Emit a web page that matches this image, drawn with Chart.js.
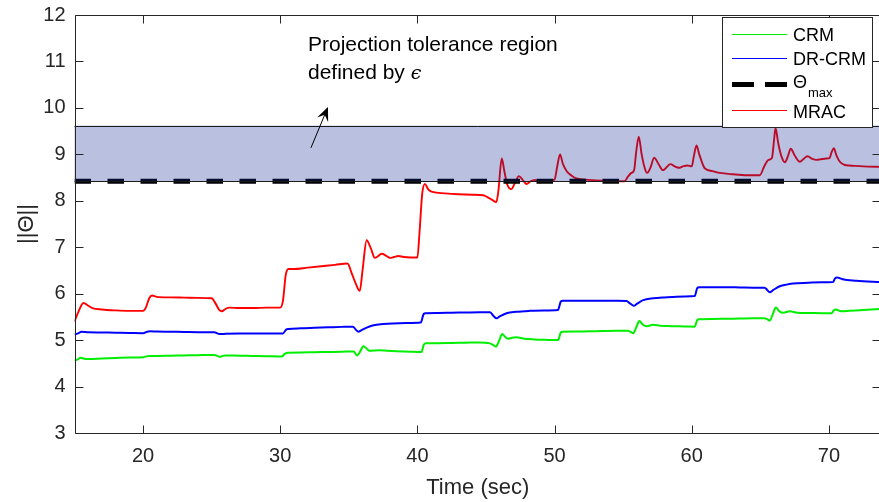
<!DOCTYPE html>
<html lang="en">
<head>
<meta charset="UTF-8">
<title>Parameter norm</title>
<script src="https://cdn.jsdelivr.net/npm/chart.js"></script>
<style>
    html, body {
        margin: 0;
        padding: 0;
        background: #fff;
        overflow: hidden;
    }

    .chart-box {
        width: 881px;
        height: 502px;
    }
</style>
</head>
<body>
<div class="chart-box"><canvas id="normChart"></canvas></div>

<script>
    // series names as shown in the legend ("_" marks a subscript)
    const seriesNames = ['CRM', 'DR-CRM', 'Θ_max', 'MRAC'];

    // CRM
    const crmTime = [15.0, 15.2, 15.45, 15.7, 16.0, 17, 18, 19, 20.0, 20.3, 20.5, 21, 22, 23, 24, 25.2, 25.45, 25.6, 25.8, 26.0,
        27, 28, 29, 30.1, 30.35, 30.55, 31.5, 32.5, 33.5, 34.5, 35.35, 35.6, 35.8, 36.06, 36.3, 36.5, 36.8, 37.2, 37.8, 38.5,
        39.5, 40.3, 40.45, 40.6, 41.5, 42.5, 43.5, 44.5, 45.28, 45.5, 45.72, 45.95, 46.18, 46.4, 46.6, 46.9, 47.2, 47.8, 48.5, 49.5,
        50.26, 50.45, 50.6, 51.5, 52.5, 53.5, 54.5, 55.37, 55.55, 55.74, 55.95, 56.18, 56.45, 56.72, 57.2, 57.7, 58.5, 59.5, 60.22, 60.4,
        60.55, 61.5, 62.5, 63.5, 64.5, 65.32, 65.5, 65.69, 65.9, 66.13, 66.4, 66.66, 67.15, 67.7, 68.5, 69.5, 70.2, 70.35, 70.5, 70.9,
        71.5, 72.5, 73.8];
    const crmValue = [4.56, 4.58, 4.62, 4.60, 4.595, 4.605, 4.615, 4.625, 4.63, 4.655, 4.66, 4.66, 4.665, 4.67, 4.675, 4.68, 4.655, 4.64, 4.66, 4.67,
        4.665, 4.66, 4.655, 4.645, 4.71, 4.73, 4.735, 4.74, 4.745, 4.75, 4.755, 4.67, 4.74, 4.87, 4.82, 4.77, 4.775, 4.78, 4.77, 4.76,
        4.75, 4.745, 4.89, 4.93, 4.935, 4.94, 4.945, 4.95, 4.93, 4.90, 4.86, 4.98, 5.13, 5.07, 5.03, 5.05, 5.06, 5.03, 5.015, 5.005,
        5.0, 5.16, 5.18, 5.185, 5.19, 5.195, 5.20, 5.20, 5.175, 5.15, 5.27, 5.41, 5.33, 5.30, 5.33, 5.31, 5.30, 5.295, 5.29, 5.43,
        5.45, 5.455, 5.46, 5.465, 5.47, 5.47, 5.45, 5.42, 5.55, 5.70, 5.62, 5.59, 5.62, 5.59, 5.585, 5.58, 5.58, 5.64, 5.66, 5.62,
        5.63, 5.65, 5.67];

    // DR-CRM
    const drcrmTime = [15.0, 15.3, 15.5, 16.0, 17, 18, 19, 20.0, 20.3, 20.5, 21, 22, 23, 24, 25.2, 25.45, 25.7, 26, 27, 28,
        29, 30.2, 30.45, 30.6, 31.5, 32.5, 33.5, 34.5, 35.3, 35.5, 35.7, 35.9, 36.3, 36.8, 37.5, 38.2, 39.2, 40.25, 40.45, 40.6,
        41.5, 42.5, 43.5, 44.5, 45.3, 45.55, 45.77, 46.0, 46.5, 47.2, 48.2, 49.2, 50.25, 50.45, 50.6, 51.5, 52.5, 53.5, 54.5, 55.25,
        55.5, 55.78, 56.0, 56.46, 57.2, 58, 58.64, 59.5, 60.22, 60.4, 60.55, 61.5, 62.5, 63.5, 64.5, 65.32, 65.5, 65.69, 65.95, 66.42,
        67.0, 67.39, 68.5, 69.5, 70.3, 70.45, 70.6, 71.0, 72, 73.8];
    const drcrmValue = [5.12, 5.15, 5.18, 5.17, 5.165, 5.16, 5.155, 5.15, 5.18, 5.19, 5.185, 5.18, 5.175, 5.17, 5.17, 5.14, 5.13, 5.135, 5.14, 5.14,
        5.14, 5.145, 5.23, 5.24, 5.255, 5.265, 5.275, 5.285, 5.29, 5.23, 5.18, 5.21, 5.27, 5.32, 5.345, 5.36, 5.37, 5.38, 5.56, 5.58,
        5.585, 5.59, 5.595, 5.60, 5.60, 5.52, 5.47, 5.51, 5.58, 5.61, 5.63, 5.64, 5.65, 5.83, 5.85, 5.85, 5.85, 5.85, 5.845, 5.84,
        5.79, 5.74, 5.78, 5.86, 5.90, 5.92, 5.93, 5.94, 5.95, 6.12, 6.14, 6.14, 6.14, 6.135, 6.13, 6.13, 6.08, 6.03, 6.08, 6.16,
        6.20, 6.22, 6.235, 6.245, 6.25, 6.33, 6.35, 6.31, 6.28, 6.25];

    // MRAC
    const mracTime = [15.0, 15.3, 15.65, 16.0, 16.3, 17.0, 18.0, 19.0, 20.0, 20.2, 20.45, 20.65, 21.0, 22.0, 23.0, 24.0, 25.0, 25.3, 25.55, 25.75,
        26.0, 26.3, 27, 28, 29, 30.0, 30.2, 30.4, 30.6, 31.0, 32, 33, 34, 34.9, 35.2, 35.5, 35.8, 36.0, 36.3, 36.6,
        36.9, 37.1, 37.4, 37.7, 38.0, 38.3, 38.6, 39.0, 39.5, 40.0, 40.15, 40.35, 40.55, 40.8, 41.1, 42, 43, 44, 44.8, 45.1,
        45.4, 45.75, 45.9, 46.15, 46.35, 46.55, 46.85, 47.1, 47.4, 47.7, 47.96, 48.25, 48.56, 48.8, 49.0, 49.5, 50.0, 50.2, 50.4, 50.6,
        50.9, 51.3, 51.6, 52.5, 53.5, 54.5, 55.1, 55.35, 55.6, 55.8, 55.95, 56.14, 56.35, 56.6, 56.75, 57.0, 57.26, 57.6, 57.9, 58.45,
        58.75, 59.06, 59.35, 59.67, 60.0, 60.15, 60.35, 60.55, 60.95, 61.5, 62.05, 63.0, 64.0, 64.96, 65.3, 65.6, 65.85, 66.0, 66.11, 66.3,
        66.55, 66.79, 67.0, 67.22, 67.5, 67.88, 68.15, 68.44, 68.8, 69.1, 69.5, 69.82, 70.05, 70.2, 70.36, 70.55, 70.8, 71.16, 71.5, 72.5,
        73.8];
    const mracValue = [5.40, 5.62, 5.80, 5.74, 5.69, 5.66, 5.64, 5.63, 5.63, 5.70, 5.90, 5.96, 5.93, 5.92, 5.915, 5.91, 5.90, 5.78, 5.65, 5.62,
        5.67, 5.70, 5.69, 5.69, 5.70, 5.70, 5.85, 6.40, 6.53, 6.53, 6.56, 6.59, 6.62, 6.65, 6.45, 6.22, 6.06, 6.50, 7.15, 6.98,
        6.77, 6.80, 6.86, 6.82, 6.77, 6.79, 6.81, 6.79, 6.78, 6.78, 7.30, 8.15, 8.36, 8.24, 8.19, 8.16, 8.14, 8.13, 8.12, 8.08,
        8.03, 7.97, 8.20, 8.91, 8.62, 8.35, 8.25, 8.38, 8.53, 8.44, 8.36, 8.42, 8.45, 8.41, 8.40, 8.42, 8.46, 8.75, 9.00, 8.80,
        8.63, 8.53, 8.48, 8.45, 8.43, 8.42, 8.42, 8.52, 8.60, 8.66, 9.05, 9.38, 9.00, 8.68, 8.60, 8.72, 8.93, 8.78, 8.66, 8.79,
        8.74, 8.71, 8.74, 8.76, 8.74, 8.95, 9.19, 9.00, 8.70, 8.64, 8.60, 8.57, 8.55, 8.55, 8.75, 8.88, 8.92, 9.30, 9.57, 9.25,
        8.95, 8.83, 8.95, 9.12, 8.98, 8.84, 8.90, 8.96, 8.90, 8.88, 8.90, 8.91, 8.92, 9.05, 9.13, 8.98, 8.84, 8.77, 8.76, 8.74,
        8.73];

    // bound and tolerance band
    const thetaMax = 8.42;
    const epsilon = 1.2;

    // axes
    const xRange = [15, 73.8];
    const yRange = [3, 12];
    const xTicks = [20, 30, 40, 50, 60, 70];
    const yTicks = [3, 4, 5, 6, 7, 8, 9, 10, 11, 12];

    const FONT = '"Liberation Sans", Arial, Helvetica, sans-serif';
    const AXIS_COLOR = '#262626';

    function points(ts, vs) {
        return ts.map((t, i) => ({ x: t, y: vs[i] }));
    }

    // shaded tolerance band drawn over the curves, plus the arrow note
    const bandPlugin = {
        id: 'band',
        afterDatasetsDraw(chart) {
            const { ctx, chartArea: a, scales: { x, y } } = chart;
            const y0 = y.getPixelForValue(thetaMax);
            const y1 = y.getPixelForValue(thetaMax + epsilon);
            ctx.save();
            ctx.fillStyle = 'rgba(18, 38, 145, 0.29)';
            ctx.fillRect(a.left, y1, a.right - a.left, y0 - y1);
            ctx.strokeStyle = '#1a1a1a';
            ctx.lineWidth = 1;
            ctx.beginPath();
            ctx.moveTo(a.left, Math.round(y1) + 0.5);
            ctx.lineTo(a.right, Math.round(y1) + 0.5);
            ctx.moveTo(a.left, Math.round(y0) + 0.5);
            ctx.lineTo(a.right, Math.round(y0) + 0.5);
            ctx.stroke();

            // note text
            ctx.fillStyle = '#000';
            ctx.textBaseline = 'middle';
            ctx.textAlign = 'left';
            ctx.font = '21px ' + FONT;
            const tx = x.getPixelForValue(32.02);
            ctx.fillText('Projection tolerance region', tx, y.getPixelForValue(11.35));
            const ly = y.getPixelForValue(10.75);
            ctx.fillText('defined by ', tx, ly);
            const w = ctx.measureText('defined by ').width;
            ctx.font = 'italic 19px "DejaVu Serif", serif';
            ctx.fillText('\u03F5', tx + w, ly + 1);

            // arrow
            const ax0 = x.getPixelForValue(32.24), ay0 = y.getPixelForValue(9.14);
            const ax1 = x.getPixelForValue(33.48), ay1 = y.getPixelForValue(10.02);
            const len = Math.hypot(ax1 - ax0, ay1 - ay0);
            const dx = (ax1 - ax0) / len, dy = (ay1 - ay0) / len;
            const hl = 14, hw = 6;
            ctx.strokeStyle = '#000';
            ctx.lineWidth = 1;
            ctx.beginPath();
            ctx.moveTo(ax0, ay0);
            ctx.lineTo(ax1 - dx * hl * 0.6, ay1 - dy * hl * 0.6);
            ctx.stroke();
            ctx.fillStyle = '#000';
            ctx.beginPath();
            ctx.moveTo(ax1, ay1);
            ctx.lineTo(ax1 - dx * hl - dy * hw, ay1 - dy * hl + dx * hw);
            ctx.lineTo(ax1 - dx * hl * 0.6, ay1 - dy * hl * 0.6);
            ctx.lineTo(ax1 - dx * hl + dy * hw, ay1 - dy * hl - dx * hw);
            ctx.closePath();
            ctx.fill();
            ctx.restore();
        }
    };

    // box around the axes with inward ticks on all four sides
    const framePlugin = {
        id: 'frame',
        afterDatasetsDraw(chart) {
            const { ctx, chartArea: a, scales: { x, y } } = chart;
            const tl = 8;
            ctx.save();
            ctx.strokeStyle = AXIS_COLOR;
            ctx.lineWidth = 1;
            ctx.beginPath();
            const L = Math.round(a.left) + 0.5, R = Math.round(a.right) - 0.5;
            const T = Math.round(a.top) + 0.5, B = Math.round(a.bottom) + 0.5;
            ctx.rect(L, T, R - L, B - T);
            xTicks.forEach(v => {
                const px = Math.round(x.getPixelForValue(v)) + 0.5;
                ctx.moveTo(px, B); ctx.lineTo(px, B - tl);
                ctx.moveTo(px, T); ctx.lineTo(px, T + tl);
            });
            yTicks.forEach(v => {
                const py = Math.round(y.getPixelForValue(v)) + 0.5;
                ctx.moveTo(L, py); ctx.lineTo(L + tl, py);
                ctx.moveTo(R, py); ctx.lineTo(R - tl, py);
            });
            ctx.stroke();
            ctx.restore();
        }
    };

    // legend box in the upper right corner
    const legendPlugin = {
        id: 'boxLegend',
        afterDraw(chart) {
            const { ctx } = chart;
            const bx = 722.5, by = 17.5, bw = 150, bh = 110;
            const rows = [34, 58, 84, 110];
            const baselines = [40.5, 64.5, 88, 118];
            ctx.save();
            ctx.fillStyle = '#fff';
            ctx.fillRect(bx, by, bw, bh);
            ctx.strokeStyle = AXIS_COLOR;
            ctx.lineWidth = 1;
            ctx.strokeRect(bx, by, bw, bh);

            chart.data.datasets.forEach((ds, i) => {
                const ry = rows[i] + 0.5;
                ctx.strokeStyle = ds.borderColor;
                if (ds.borderDash && ds.borderDash.length) {
                    ctx.lineWidth = 5;
                    ctx.setLineDash([22, 11]);
                } else {
                    ctx.lineWidth = 1.2;
                    ctx.setLineDash([]);
                }
                ctx.beginPath();
                ctx.moveTo(732, ry);
                ctx.lineTo(787, ry);
                ctx.stroke();
                ctx.setLineDash([]);

                const [main, sub] = ds.label.split('_');
                ctx.fillStyle = '#000';
                ctx.textAlign = 'left';
                ctx.textBaseline = 'alphabetic';
                ctx.font = '18px ' + FONT;
                ctx.fillText(main, 793, baselines[i]);
                if (sub) {
                    const w = ctx.measureText(main).width;
                    ctx.font = '13px ' + FONT;
                    ctx.fillText(sub, 793 + w + 1, baselines[i] + 9);
                }
            });
            ctx.restore();
        }
    };

    function lineSet(label, color, data, width) {
        return {
            label: label,
            data: data,
            borderColor: color,
            borderWidth: width,
            pointRadius: 0,
            fill: false,
            cubicInterpolationMode: 'monotone'
        };
    }

    window.onload = function () {
        const ctx = document.getElementById('normChart').getContext('2d');
        const chart = new Chart(ctx, {
            type: 'line',
            data: {
                datasets: [
                    lineSet(seriesNames[0], '#00ee00', points(crmTime, crmValue), 2),
                    lineSet(seriesNames[1], '#0000ff', points(drcrmTime, drcrmValue), 2),
                    {
                        label: seriesNames[2],
                        data: points(xRange, [thetaMax, thetaMax]),
                        borderColor: '#000',
                        borderWidth: 5,
                        borderDash: [16.5, 16.5],
                        pointRadius: 0,
                        fill: false
                    },
                    lineSet(seriesNames[3], '#ff0000', points(mracTime, mracValue), 1.9)
                ]
            },
            options: {
                responsive: true,
                maintainAspectRatio: false,
                animation: false,
                layout: { padding: { top: 15, right: 0, bottom: 0, left: 0 } },
                plugins: {
                    legend: { display: false },
                    tooltip: { enabled: false }
                },
                scales: {
                    x: {
                        type: 'linear',
                        min: xRange[0],
                        max: xRange[1],
                        afterBuildTicks: s => { s.ticks = xTicks.map(v => ({ value: v })); },
                        afterFit: s => { s.height = 69; },
                        grid: { display: false, drawTicks: false },
                        border: { display: false },
                        ticks: {
                            padding: 11,
                            maxRotation: 0,
                            color: AXIS_COLOR,
                            font: { family: FONT, size: 20 }
                        },
                        title: {
                            display: true,
                            text: 'Time (sec)',
                            color: AXIS_COLOR,
                            font: { family: FONT, size: 22 },
                            padding: { top: 0, bottom: 1 }
                        }
                    },
                    y: {
                        min: yRange[0],
                        max: yRange[1],
                        afterBuildTicks: s => { s.ticks = yTicks.map(v => ({ value: v })); },
                        afterFit: s => { s.width = 74.5; },
                        // label gap comes from the (hidden) tick length so the top padding stays small
                        grid: { display: false, drawTicks: true, tickLength: 6 },
                        border: { display: false },
                        ticks: {
                            padding: 3,
                            color: AXIS_COLOR,
                            font: { family: FONT, size: 20 }
                        },
                        title: {
                            display: true,
                            text: '||Θ||',
                            color: AXIS_COLOR,
                            font: { family: FONT, size: 22 },
                            padding: { top: 14, bottom: 0 }
                        }
                    }
                }
            },
            plugins: [bandPlugin, framePlugin, legendPlugin]
        });
    };
</script>
</body>
</html>
